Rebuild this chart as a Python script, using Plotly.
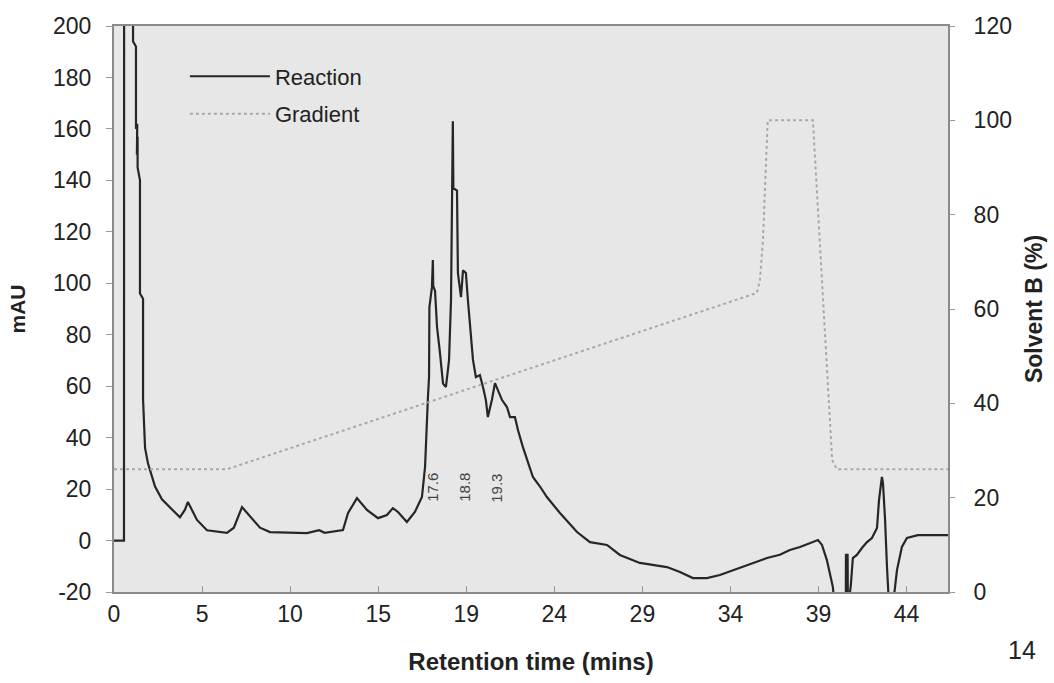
import plotly.graph_objects as go

# ---- data ----
reaction_time = [0, 0.55, 0.56, 1.04, 1.05, 1.21, 1.21, 1.28, 1.26, 1.30, 1.30, 1.43, 1.43, 1.60, 1.60,
                 1.71, 1.87, 2.26, 2.64, 3.19, 3.63, 3.91, 4.07, 4.57, 5.12, 6.22, 6.60, 7.05, 8.04,
                 8.59, 9.50, 10.63, 11.30, 11.60, 12.61, 12.89, 13.38, 13.93, 14.54, 15.03, 15.36,
                 15.64, 16.13, 16.57, 16.96, 17.13, 17.29, 17.35, 17.37, 17.51, 17.56, 17.58, 17.68,
                 17.79, 17.95, 18.12, 18.28, 18.45, 18.56, 18.61, 18.66, 18.69, 18.89, 18.94, 19.11,
                 19.22, 19.38, 19.49, 19.66, 19.77, 19.93, 20.15, 20.32, 20.48, 20.59, 20.81, 20.98,
                 21.15, 21.37, 21.64, 21.81, 22.08, 22.25, 22.52, 22.74, 23.07, 23.46, 23.84, 24.56,
                 25.50, 26.21, 27.15, 27.86, 28.96, 30.45, 31.17, 31.88, 32.65, 33.37, 34.47, 35.96,
                 36.67, 37.22, 37.78, 38.33, 38.77, 38.99, 39.26, 39.59, 39.75, 40.30, 40.31, 40.40,
                 40.42, 40.50, 40.58, 40.69, 40.91, 41.19, 41.47, 41.74, 42.02, 42.13, 42.29, 42.35,
                 42.46, 42.57, 42.68, 42.90, 43.12, 43.39, 43.67, 44.27, 45.93]
reaction_mau = [0, 0, 300, 300, 194, 192, 160, 162, 150, 157, 145, 140, 96, 94, 55,
                36, 30, 21, 16, 12, 9, 12, 15, 8, 4, 3, 5, 13, 5,
                3.3, 3, 2.9, 4, 3, 4.1, 10.7, 16.5, 11.9, 8.7, 9.9, 12.6,
                11.1, 7.2, 11.1, 16.9, 28.6, 55.8, 63.5, 90.7, 98.5, 109, 99, 97,
                83, 73, 61, 59.7, 70, 93.5, 136, 163, 137, 136, 104, 94.6,
                105, 104, 93.5, 80.6, 70.2, 63.5, 64.3, 59.7, 54.6, 48, 54.6, 61.2,
                58.5, 54.6, 51.9, 48, 48, 42.9, 36.3, 31.3, 24.7, 21, 16.9, 10.7,
                3.3, -0.6, -1.7, -5.6, -8.7, -10.3, -12.2, -14.6, -14.6, -13.4, -10.7, -6.8,
                -5.5, -3.7, -2.5, -1.0, 0.2, -1.7, -7.6, -18.1, -30, -30, -5.6, -5.6,
                -30, -22, -17.3, -6.8, -5.6, -2.9, -0.6, 1.0, 4.9, 15.7, 24.7, 22.3,
                8.7, -10.3, -25, -25, -11.5, -2.5, 1.0, 2.1, 2.1]

gradient_time = [0, 6.2, 35.4, 35.57, 35.74, 36.0, 38.49, 39.55, 39.81, 45.93]
gradient_pct = [26, 26, 63.4, 66, 74.6, 100, 100, 28, 26, 26]

x_tick_labels = ["0", "5", "10", "15", "19", "24", "29", "34", "39", "44"]
x_tick_step = 4.85
x_max = 45.93

y_tick_values = [-20, 0, 20, 40, 60, 80, 100, 120, 140, 160, 180, 200]
y_tick_labels = ["-20", "0", "20", "40", "60", "80", "100", "120", "140", "160", "180", "200"]
y2_tick_values = [0, 20, 40, 60, 80, 100, 120]

peak_labels = ["17.6", "18.8", "19.3"]
peak_label_x = [17.57, 19.33, 21.09]

FONT = "Liberation Sans, Arial, sans-serif"
TICK_FONT = dict(family=FONT, size=23, color="#222")

fig = go.Figure()
fig.add_trace(go.Scatter(x=reaction_time, y=reaction_mau, mode="lines", name="Reaction",
                         legendgroup="a", line=dict(color="#262626", width=2.2)))
fig.add_trace(go.Scatter(x=gradient_time, y=gradient_pct, mode="lines", name="Gradient",
                         legendgroup="b", yaxis="y2",
                         line=dict(color="#a8a8a8", width=2, dash="dot")))

for lab, xv in zip(peak_labels, peak_label_x):
    fig.add_annotation(x=xv, y=20.5, xref="x", yref="y", text=lab, showarrow=False,
                       textangle=-90, yanchor="middle", xanchor="center",
                       font=dict(family=FONT, size=15, color="#444"))

# page number in the corner of the scanned page
fig.add_annotation(x=1.108, y=-0.13, xref="paper", yref="paper", text="14",
                   showarrow=False, font=dict(family=FONT, size=25, color="#222"))

fig.update_layout(
    width=1054, height=683,
    margin=dict(l=114, r=106, t=26, b=91),
    paper_bgcolor="white",
    plot_bgcolor="#e7e7e7",
    font=dict(family=FONT, size=20, color="#222"),
    showlegend=True,
    legend=dict(x=0.085, y=0.948, xanchor="left", yanchor="top",
                bgcolor="rgba(0,0,0,0)", font=dict(family=FONT, size=22, color="#222"),
                itemwidth=80, tracegroupgap=6),
    xaxis=dict(range=[0, x_max], tickvals=[i * x_tick_step for i in range(len(x_tick_labels))],
               ticktext=x_tick_labels, ticks="inside", ticklen=6, tickcolor="#999",
               showline=True, linecolor="#8a8a8a", linewidth=2, mirror=True,
               showgrid=False, zeroline=False,
               title=dict(text="<b>Retention time (mins)</b>", font=dict(family=FONT, size=24),
                          standoff=28),
               tickfont=TICK_FONT),
    yaxis=dict(range=[-20, 200], tickvals=y_tick_values, ticktext=y_tick_labels,
               ticks="outside", ticklen=6, tickcolor="#999",
               showline=True, linecolor="#8a8a8a", linewidth=2, mirror=True,
               showgrid=False, zeroline=False, ticklabelstandoff=10,
               title=dict(text="<b>mAU</b>", font=dict(family=FONT, size=21), standoff=22),
               tickfont=TICK_FONT),
    yaxis2=dict(range=[0, 120], tickvals=y2_tick_values, overlaying="y", side="right",
                ticks="outside", ticklen=6, tickcolor="#999", showgrid=False, zeroline=False,
                ticklabelstandoff=14,
                title=dict(text="<b>Solvent B (%)</b>", font=dict(family=FONT, size=23),
                           standoff=14),
                tickfont=TICK_FONT),
)

fig.write_html("out.html")
